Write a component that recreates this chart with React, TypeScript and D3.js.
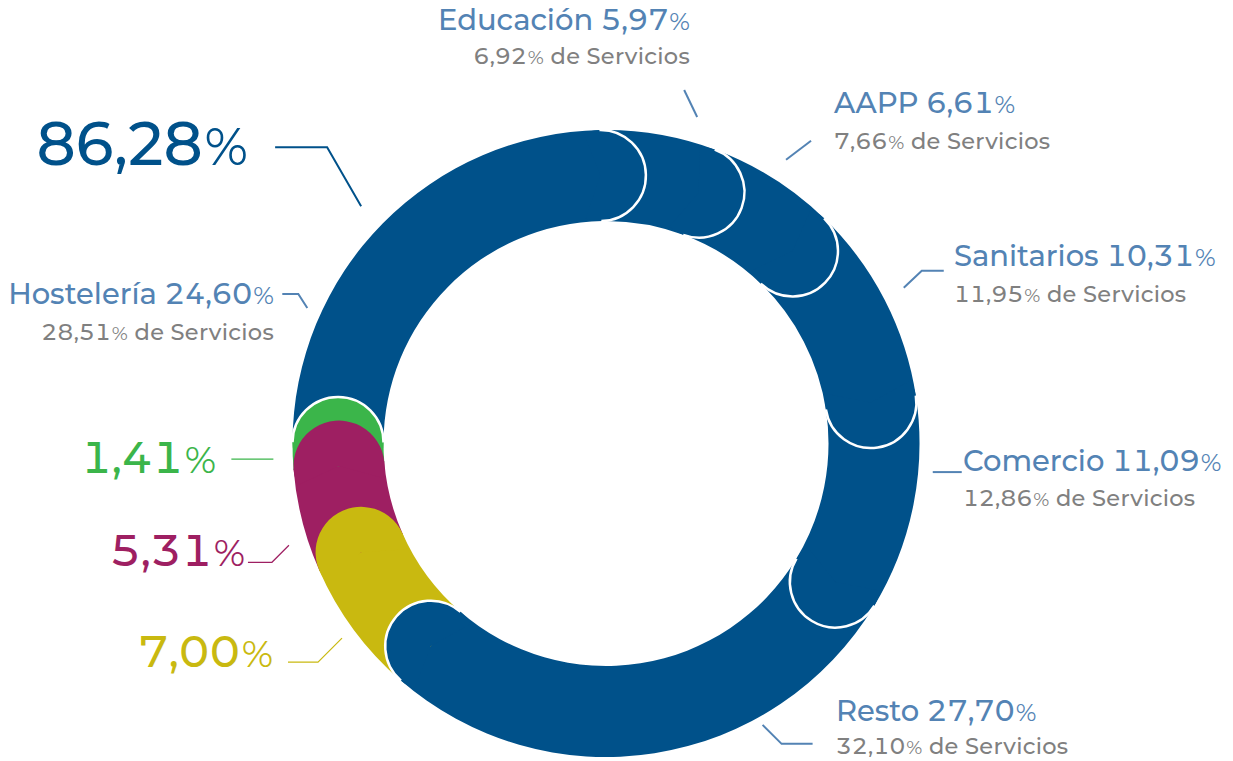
import React from "react";
import * as d3 from "d3";

// data (shares of total employment, %)
const categories = ["Educación", "AAPP", "Sanitarios", "Comercio", "Resto", "Construcción", "Industria", "Agricultura", "Hostelería"];
const sectors = ["servicios", "servicios", "servicios", "servicios", "servicios", "construccion", "industria", "agricultura", "servicios"];
const shareOfTotal = [5.97, 6.61, 10.31, 11.09, 27.7, 7.0, 5.31, 1.41, 24.6];
const shareOfServices = [6.92, 7.66, 11.95, 12.86, 32.1, null, null, null, 28.51];
const servicesTotal = 86.28;

const colors: Record<string, string> = {
  servicios: "#00518A",
  construccion: "#C9B910",
  industria: "#9E1F62",
  agricultura: "#3BB54A",
};
const capOutline: Record<string, boolean> = {
  servicios: true,
  agricultura: true,
  construccion: false,
  industria: false,
};

const labelBlue = "#5383B4";
const grey = "#808080";
const font = "Montserrat, 'Open Sans', sans-serif";

// label placement (px on the 1233x761 page), leader tip given as [angle deg, radius]
const serviceLabels: Record<string, any> = {
  "Educación": { x: 690, y: 29.5, sub: 34.5, anchor: "end", tip: [15.6, 339], pts: [[-13, -27]] },
  AAPP: { x: 834, y: 113, sub: 36, anchor: "start", tip: [32.4, 336], pts: [[25, -19]] },
  Sanitarios: { x: 954, y: 266, sub: 36, anchor: "start", tip: [62.4, 336], pts: [[18, -17], [40, -17]] },
  Comercio: { x: 963, y: 471, sub: 35, anchor: "start", tip: [95, 328], pts: [[29, 0]] },
  Resto: { x: 836, y: 721, sub: 33, anchor: "start", tip: [150.9, 322], pts: [[19, 19], [50, 19]] },
  "Hostelería": { x: 274, y: 304, sub: 36, anchor: "end", tip: [294.4, 328], pts: [[-9, -14], [-25, -14]] },
};
const sectorLabels: Record<string, any> = {
  servicios: { x: 248, y: 165, size: 61, tnum: false, tip: [314.1, 341], pts: [[-34, -59], [-86, -59]], lw: 2 },
  agricultura: { x: 216, y: 473, size: 44, tnum: true, tip: [267.3, 333], pts: [[-42, 0]], lw: 1.2 },
  industria: { x: 245, y: 566, size: 44, tnum: true, tip: [252.2, 333], pts: [[-17, 17], [-41, 17]], lw: 1.2 },
  construccion: { x: 273, y: 667, size: 44, tnum: true, tip: [233.6, 328], pts: [[-24, 24], [-54, 24]], lw: 1.2 },
};

const W = 1233;
const H = 761;
const cx = 606;
const cy = 443.5;
const rOuter = 313.5;
const rInner = 222.5;
const startDeg = -1.2;
const titleSize = 29;
const subSize = 22.5;

const fmt = d3.formatLocale({ decimal: ",", thousands: ".", grouping: [3], currency: ["", "€"] }).format(".2f");
const rad = (d: number) => (d * Math.PI) / 180;

function Pct({ value, size }: { value: number; size: number }) {
  return (
    <>
      {fmt(value)}
      <tspan fontSize={size * 0.86} fontWeight={400} dx={size * 0.03}>%</tspan>
    </>
  );
}

function leaderPath(tip: number[], pts: number[][]) {
  const [tx, ty] = d3.pointRadial(rad(tip[0]), tip[1]);
  const line = d3.line();
  return line([[tx, ty], ...pts.map(([dx, dy]) => [tx + dx, ty + dy] as [number, number])]) || "";
}

export default function App() {
  const s0 = rad(startDeg);
  const pie = d3.pie<number>().sort(null).startAngle(s0).endAngle(s0 + 2 * Math.PI);
  const arcs = pie(shareOfTotal);
  // tiny overlap so neighbouring segments show no seam
  const arcGen = d3
    .arc<d3.PieArcDatum<number>>()
    .innerRadius(rInner)
    .outerRadius(rOuter)
    .startAngle((d) => d.startAngle)
    .endAngle((d) => d.endAngle + 0.004);
  const capR = (rOuter - rInner) / 2;
  const midR = (rOuter + rInner) / 2;
  const capFill = d3.arc<any>().innerRadius(0).outerRadius(capR);

  return (
    <svg width={W} height={H} style={{ position: "absolute", left: 0, top: 0, background: "#fff" }} fontFamily={font}>
      <g transform={`translate(${cx},${cy})`}>
        {arcs.map((a, i) => (
          <path key={"seg" + i} d={arcGen(a) || ""} fill={colors[sectors[i]]} />
        ))}
        {arcs
          .map((a, i) => ({ a, i }))
          .reverse()
          .map(({ a, i }) => {
            const [px, py] = d3.pointRadial(a.endAngle, midR);
            const p = d3.path();
            const a0 = a.endAngle - Math.PI / 2;
            p.moveTo(capR * Math.cos(a0), capR * Math.sin(a0));
            p.arc(0, 0, capR, a0, a0 + Math.PI, false);
            return (
              <g key={"cap" + i} transform={`translate(${px},${py})`}>
                <path
                  d={capFill({ startAngle: a.endAngle - 0.35, endAngle: a.endAngle + Math.PI + 0.35 }) || ""}
                  fill={colors[sectors[i]]}
                />
                {capOutline[sectors[i]] && <path d={p.toString()} fill="none" stroke="#fff" strokeWidth={2.5} />}
              </g>
            );
          })}
        {categories.map((c, i) => {
          const l = serviceLabels[c];
          if (!l) return null;
          return <path key={"ld" + i} d={leaderPath(l.tip, l.pts)} fill="none" stroke={labelBlue} strokeWidth={2} />;
        })}
        {Object.keys(sectorLabels).map((k) => {
          const l = sectorLabels[k];
          return <path key={"ls" + k} d={leaderPath(l.tip, l.pts)} fill="none" stroke={colors[k]} strokeWidth={l.lw} />;
        })}
      </g>

      <g style={{ fontVariantNumeric: "tabular-nums" }}>
        {categories.map((c, i) => {
          const l = serviceLabels[c];
          if (!l) return null;
          return (
            <g key={"lab" + i} textAnchor={l.anchor}>
              <text x={l.x} y={l.y} fontSize={titleSize} fontWeight={500} fill={labelBlue}>
                {c} <Pct value={shareOfTotal[i]} size={titleSize} />
              </text>
              <text x={l.x} y={l.y + l.sub} fontSize={subSize} fontWeight={500} fill={grey} letterSpacing={0.3}>
                <Pct value={shareOfServices[i] as number} size={subSize} /> de Servicios
              </text>
            </g>
          );
        })}
      </g>

      {Object.keys(sectorLabels).map((k) => {
        const l = sectorLabels[k];
        const value = k === "servicios" ? servicesTotal : shareOfTotal[sectors.indexOf(k)];
        return (
          <text
            key={"big" + k}
            x={l.x}
            y={l.y}
            textAnchor="end"
            fontSize={l.size}
            fontWeight={500}
            fill={colors[k]}
            style={{ fontVariantNumeric: l.tnum ? "tabular-nums" : "normal" }}
          >
            <Pct value={value} size={l.size} />
          </text>
        );
      })}
    </svg>
  );
}
